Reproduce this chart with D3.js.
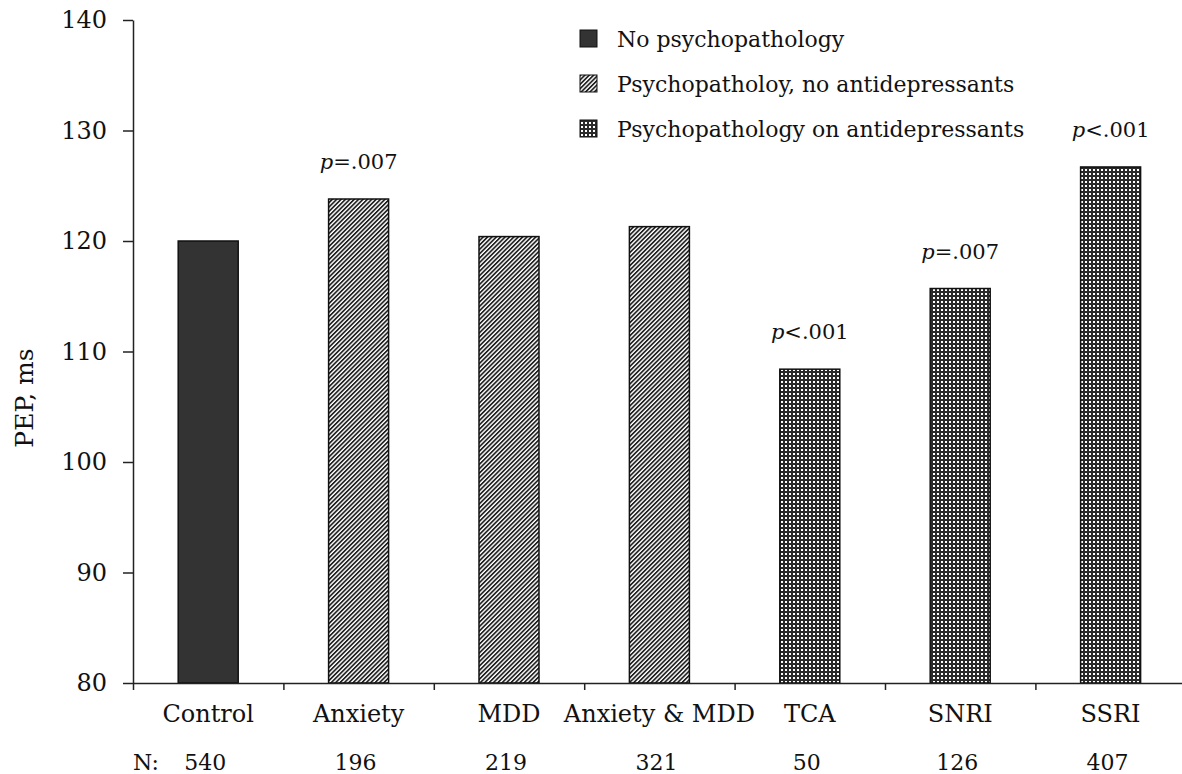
<!DOCTYPE html>
<html>
<head>
<meta charset="utf-8">
<script src="https://cdn.jsdelivr.net/npm/d3@7"></script>
<style>
  body { margin: 0; background: #fff; }
  svg { display: block; font-family: "DejaVu Serif", serif; }
</style>
</head>
<body>
<svg width="1182" height="774"></svg>
<script>
const categories = ["Control", "Anxiety", "MDD", "Anxiety & MDD", "TCA", "SNRI", "SSRI"];
const pepValues = [120.0, 123.8, 120.4, 121.3, 108.4, 115.7, 126.7];
const groupOf = [0, 1, 1, 1, 2, 2, 2];
const nCounts = [540, 196, 219, 321, 50, 126, 407];
const pLabels = ["", "=.007", "", "", "<.001", "=.007", "<.001"];
const legendLabels = ["No psychopathology", "Psychopatholoy, no antidepressants", "Psychopathology on antidepressants"];
const yTicks = [80, 90, 100, 110, 120, 130, 140];

const plotLeft = 133, plotTop = 20, plotBottom = 683, step = 150.4;
const svg = d3.select("svg");

// patterns
const defs = svg.append("defs");
const hatch = defs.append("pattern")
  .attr("id", "hatch")
  .attr("patternUnits", "userSpaceOnUse")
  .attr("width", 3.1).attr("height", 3.1)
  .attr("patternTransform", "rotate(45)");
hatch.append("rect").attr("width", 3.1).attr("height", 3.1).attr("fill", "#fff");
hatch.append("rect").attr("width", 1.7).attr("height", 3.1).attr("fill", "#222");

const dots = defs.append("pattern")
  .attr("id", "dots")
  .attr("patternUnits", "userSpaceOnUse")
  .attr("width", 4).attr("height", 4);
dots.append("rect").attr("width", 4).attr("height", 4).attr("fill", "#2a2a2a");
dots.append("rect").attr("x", 1).attr("y", 1).attr("width", 2).attr("height", 2).attr("fill", "#fff");

const fills = ["#333333", "url(#hatch)", "url(#dots)"];

const x = d3.scaleBand().domain(categories).range([plotLeft, plotLeft + step * categories.length]);
const y = d3.scaleLinear().domain([80, 140]).range([plotBottom, plotTop]);
const barW = 60;

// bars
svg.append("g").selectAll("rect")
  .data(categories)
  .join("rect")
  .attr("x", (d, i) => x(d) + x.bandwidth() / 2 - barW / 2)
  .attr("y", (d, i) => y(pepValues[i]))
  .attr("width", barW)
  .attr("height", (d, i) => y(80) - y(pepValues[i]))
  .attr("fill", (d, i) => fills[groupOf[i]])
  .attr("stroke", "#111")
  .attr("stroke-width", 1.5);

// y axis
const yAxis = svg.append("g")
  .attr("transform", `translate(${plotLeft},0)`)
  .call(d3.axisLeft(y).tickValues(yTicks).tickSize(10).tickSizeOuter(0).tickPadding(16));
yAxis.select(".domain").attr("stroke", "#222").attr("stroke-width", 1.5);
yAxis.selectAll(".tick line").attr("stroke", "#222").attr("stroke-width", 1.5);
yAxis.selectAll(".tick text")
  .attr("font-family", "DejaVu Serif").attr("font-size", 24).attr("fill", "#111");

// x axis with ticks at category boundaries
const xb = d3.scaleLinear().domain([0, categories.length]).range([plotLeft, plotLeft + step * categories.length]);
const xAxis = svg.append("g")
  .attr("transform", `translate(0,${plotBottom})`)
  .call(d3.axisBottom(xb).ticks(categories.length).tickSize(7).tickSizeOuter(0).tickFormat(""));
xAxis.select(".domain").attr("stroke", "#222").attr("stroke-width", 1.5);
xAxis.selectAll(".tick line").attr("stroke", "#222").attr("stroke-width", 1.5);

// category labels
svg.append("g").selectAll("text")
  .data(categories)
  .join("text")
  .attr("x", d => x(d) + x.bandwidth() / 2)
  .attr("y", 722)
  .attr("text-anchor", "middle")
  .attr("font-size", 24)
  .attr("fill", "#111")
  .text(d => d);

// N row
svg.append("text").attr("x", plotLeft).attr("y", 770).attr("font-size", 22).attr("fill", "#111").text("N:");
svg.append("g").selectAll("text")
  .data(nCounts)
  .join("text")
  .attr("x", (d, i) => x(categories[i]) + x.bandwidth() / 2 - 3)
  .attr("y", 770)
  .attr("text-anchor", "middle")
  .attr("font-size", 22)
  .attr("fill", "#111")
  .text(d => d);

// p values
const pText = svg.append("g").selectAll("text")
  .data(categories.filter((d, i) => pLabels[i]))
  .join("text")
  .attr("x", d => x(d) + x.bandwidth() / 2)
  .attr("y", d => y(pepValues[categories.indexOf(d)]) - 30)
  .attr("text-anchor", "middle")
  .attr("font-size", 21)
  .attr("fill", "#111");
pText.append("tspan").attr("font-style", "italic").text("p");
pText.append("tspan").text(d => pLabels[categories.indexOf(d)]);

// y title
svg.append("text")
  .attr("transform", "translate(33,398) rotate(-90)")
  .attr("text-anchor", "middle")
  .attr("font-size", 25)
  .attr("fill", "#111")
  .text("PEP, ms");

// legend
const legend = svg.append("g").selectAll("g")
  .data(legendLabels)
  .join("g")
  .attr("transform", (d, i) => `translate(580,${47 + i * 45})`);
legend.append("rect")
  .attr("y", -17).attr("width", 17).attr("height", 17)
  .attr("fill", (d, i) => fills[i])
  .attr("stroke", "#111").attr("stroke-width", 1);
legend.append("text")
  .attr("x", 37)
  .attr("font-size", 22)
  .attr("fill", "#111")
  .text(d => d);
</script>
</body>
</html>
